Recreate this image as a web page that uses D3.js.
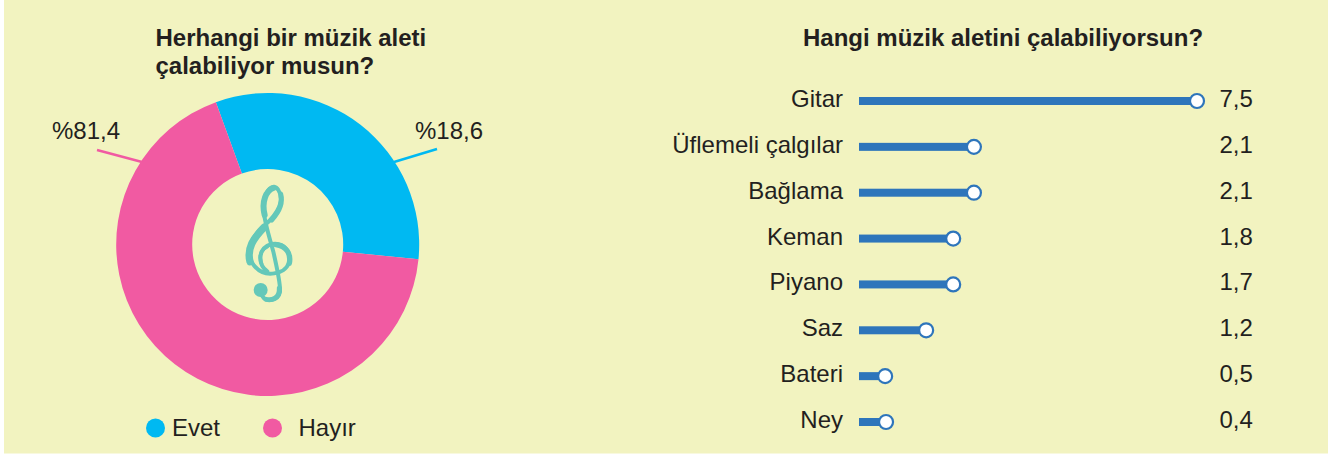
<!DOCTYPE html>
<html><head><meta charset="utf-8">
<script src="https://cdn.jsdelivr.net/npm/d3@7"></script>
<style>html,body{margin:0;padding:0;background:#fff;overflow:hidden}svg{display:block}text{font-family:"Liberation Sans",Arial,sans-serif;fill:#231f20}</style>
</head><body><svg id="c" width="1335" height="457"></svg>
<script>
const pieCategories = ["Evet", "Hayır"];
const pieLabels = ["%18,6", "%81,4"];
// Slice sizes as actually drawn in the picture (they differ from the printed labels)
const pieDrawnShares = [32.1, 67.9];
const instruments = ["Gitar", "Üflemeli çalgılar", "Bağlama", "Keman", "Piyano", "Saz", "Bateri", "Ney"];
const valueLabels = ["7,5", "2,1", "2,1", "1,8", "1,7", "1,2", "0,5", "0,4"];
// Bar lengths as actually drawn in the picture, in units of the printed values
const barDrawn = [7.5, 2.55, 2.55, 2.09, 2.09, 1.49, 0.58, 0.6];
const pieColors = ["#00b9f2", "#f15aa2"];
const fs = 24;

const svg = d3.select("#c");
svg.append("rect").attr("x", 4).attr("y", 0).attr("width", 1324).attr("height", 453.5).attr("fill", "#f2f3c0");

function title(lines, x, y, anchor) {
  const t = svg.append("text").attr("text-anchor", anchor).attr("font-size", fs).attr("font-weight", "bold");
  lines.forEach((s, i) => t.append("tspan").attr("x", x).attr("y", y + i * 28.3).text(s));
}
title(["Herhangi bir müzik aleti", "çalabiliyor musun?"], 155.5, 45.5, "start");
title(["Hangi müzik aletini çalabiliyorsun?"], 1003, 45.5, "middle");

// Donut
const cx = 267.7, cy = 244.5, R = 151.5, r = 75.5;
const start = -20 * Math.PI / 180;
const pie = d3.pie().sort(null).startAngle(start).endAngle(start + 2 * Math.PI);
const arc = d3.arc().innerRadius(r).outerRadius(R);
const g = svg.append("g").attr("transform", `translate(${cx},${cy})`);
g.selectAll("path").data(pie(pieDrawnShares)).join("path").attr("d", arc).attr("fill", (d, i) => pieColors[i]);

// Leader lines and labels
const leaders = [[394, 162, 437, 149], [142, 162, 97, 150]];
svg.selectAll("line.leader").data(leaders).join("line").attr("class", "leader")
  .attr("x1", d => d[0]).attr("y1", d => d[1]).attr("x2", d => d[2]).attr("y2", d => d[3])
  .attr("stroke", (d, i) => pieColors[i]).attr("stroke-width", 2.5);
svg.append("text").attr("x", 415).attr("y", 138.5).attr("font-size", fs).text(pieLabels[0]);
svg.append("text").attr("x", 52).attr("y", 138.5).attr("font-size", fs).text(pieLabels[1]);

// Treble clef
const clefColor = "#64c8b9";
const clef = svg.append("g").attr("transform", "translate(190,170) scale(0.3333)")
  .attr("fill", "none").attr("stroke", clefColor).attr("stroke-linecap", "round");
clef.append("path")
  .attr("d", "M232 304C205 285 200 235 245 222C285 215 305 250 296 280C285 312 225 325 195 290C160 250 180 205 225 165C265 130 285 90 265 60C250 35 225 60 220 105C218 140 235 190 250 245C260 290 272 340 270 365C265 395 225 395 218 380")
  .attr("stroke-width", 12);
const clefThick = [
  ["M180 275C170 235 190 205 222 172", 22],
  ["M224 135C214 95 228 62 250 54", 18],
  ["M272 72C280 100 268 125 245 150", 15],
  ["M298 280C304 250 288 228 258 224", 16],
  ["M214 280C205 255 215 238 232 230", 11],
  ["M268 355C270 385 245 392 228 388", 15]
];
clefThick.forEach(([d, w]) => clef.append("path").attr("d", d).attr("stroke-width", w));
clef.append("circle").attr("cx", 212).attr("cy", 360).attr("r", 21).attr("fill", clefColor).attr("stroke", "none");

// Legend
const legendX = [155.5, 272.5], legendTextX = [172, 298.5];
pieCategories.forEach((c, i) => {
  svg.append("circle").attr("cx", legendX[i]).attr("cy", 428).attr("r", 9.5).attr("fill", pieColors[i]);
  svg.append("text").attr("x", legendTextX[i]).attr("y", 436).attr("font-size", fs).text(c);
});

// Bars
const x = d3.scaleLinear().domain([0, 7.5]).range([859, 1197]);
const y = d3.scalePoint().domain(instruments).range([101, 422]);
const rows = svg.append("g").selectAll("g").data(instruments).join("g");
rows.append("rect").attr("x", x(0)).attr("y", d => y(d) - 4).attr("height", 8)
  .attr("width", (d, i) => x(barDrawn[i]) - x(0)).attr("fill", "#2e75bb");
rows.append("circle").attr("cx", (d, i) => x(barDrawn[i])).attr("cy", d => y(d)).attr("r", 7)
  .attr("fill", "#fff").attr("stroke", "#2e75bb").attr("stroke-width", 2.2);
rows.append("text").attr("x", 843).attr("y", d => y(d) + 6).attr("text-anchor", "end").attr("font-size", fs).text(d => d);
rows.append("text").attr("x", 1219.5).attr("y", d => y(d) + 6).attr("font-size", fs).text((d, i) => valueLabels[i]);
</script></body></html>
